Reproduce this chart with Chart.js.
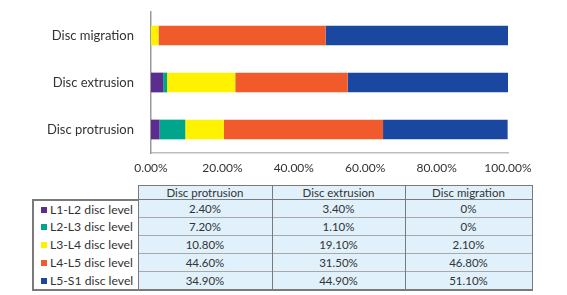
<!DOCTYPE html>
<html lang="en">
<head>
<meta charset="UTF-8">
<title>Disc level by herniation type</title>
<script src="https://cdn.jsdelivr.net/npm/chart.js"></script>
<style>
    body { margin: 0; width: 567px; height: 295px; background: #fff; position: relative; overflow: hidden;
           font-family: Lato, "Open Sans", sans-serif; color: #333; }
    #discChart { position: absolute; left: 0; top: 0; }
    table { position: absolute; left: 32px; top: 185px; border-collapse: collapse; table-layout: fixed; }
    td, th { padding: 0; text-align: center; font-weight: normal; white-space: nowrap; }
    th { height: 13px; font-size: 11.5px; line-height: 13px; background: #e0f1fb;
         border: 1.5px solid #7a7a7a; }
    th.blank { background: none; border: none; }
    td { height: 17px; font-size: 11.5px; line-height: 17px; background: #e0f1fb;
         border-left: 1.5px solid #7a7a7a; border-right: 1.5px solid #7a7a7a; border-top: 1px solid #a8a8a8; }
    td.lab { background: #fff; text-align: left; font-size: 12.2px; padding-left: 7px; border-top: none;
             border-left: 2px solid #7a7a7a; overflow: hidden; }
    tr:last-child td { border-bottom: 2px solid #7a7a7a; }
    tbody tr:first-child td.lab { border-top: 2px solid #7a7a7a; }
    .sw { display: inline-block; width: 6px; height: 6px; margin-right: 3px; vertical-align: 1px; }
</style>
</head>
<body>

<canvas id="discChart" width="567" height="183"></canvas>
<table id="discTable"></table>

<script>
    // columns of the table, bottom-to-top on the chart
    const categories = ['Disc protrusion', 'Disc extrusion', 'Disc migration'];
    const levels = ['L1-L2 disc level', 'L2-L3 disc level', 'L3-L4 disc level', 'L4-L5 disc level', 'L5-S1 disc level'];
    const colors = ['#5b2d8e', '#00a68c', '#fff200', '#f15a2b', '#1a47a0'];

    // percent per level, in category order
    const l1l2 = [2.4, 3.4, 0];
    const l2l3 = [7.2, 1.1, 0];
    const l3l4 = [10.8, 19.1, 2.1];
    const l4l5 = [44.6, 31.5, 46.8];
    const l5s1 = [34.9, 44.9, 51.1];
    const values = [l1l2, l2l3, l3l4, l4l5, l5s1];

    const xTicks = [0, 20, 40, 60, 80, 100];

    const fmt = v => v === 0 ? '0%' : v.toFixed(2) + '%';

    // data table under the chart
    const table = document.getElementById('discTable');
    let html = '<colgroup><col style="width:105px"><col style="width:134px"><col style="width:133px"><col style="width:127px"></colgroup>';
    html += '<thead><tr><th class="blank"></th>' + categories.map(c => '<th>' + c + '</th>').join('') + '</tr></thead><tbody>';
    levels.forEach((lvl, i) => {
        html += '<tr><td class="lab"><span class="sw" style="background:' + colors[i] + '"></span>' + lvl + '</td>';
        html += values[i].map(v => '<td>' + fmt(v) + '</td>').join('') + '</tr>';
    });
    html += '</tbody>';
    table.innerHTML = html;

    const ctx = document.getElementById('discChart').getContext('2d');
    new Chart(ctx, {
        type: 'bar',
        data: {
            labels: categories,
            datasets: levels.map((lvl, i) => ({
                label: lvl,
                data: values[i],
                backgroundColor: colors[i],
                borderWidth: 0,
                barPercentage: 0.42,
                categoryPercentage: 1
            }))
        },
        options: {
            indexAxis: 'y',
            responsive: false,
            animation: false,
            layout: { padding: { top: 12, right: 59, left: 0, bottom: 0 } },
            plugins: { legend: { display: false }, tooltip: { enabled: false } },
            scales: {
                x: {
                    stacked: true,
                    min: 0,
                    max: 100,
                    afterBuildTicks: s => { s.ticks = xTicks.map(v => ({ value: v })); },
                    afterFit: s => { s.height = 30; },
                    grid: { display: false, drawTicks: false },
                    border: { display: true, color: '#bdbdbd', width: 1.5 },
                    ticks: {
                        padding: 8,
                        color: '#333',
                        font: { family: 'Lato', size: 12 },
                        callback: v => v.toFixed(2) + '%'
                    }
                },
                y: {
                    stacked: true,
                    reverse: true,
                    // fixed label column, no extra label padding above/below the bars
                    afterFit: s => { s.width = 151; s.paddingTop = 0; s.paddingBottom = 0; },
                    grid: { display: false, drawTicks: false },
                    border: { display: true, color: '#9a9a9a', width: 1.5 },
                    ticks: {
                        padding: 17,
                        color: '#333',
                        font: { family: 'Lato', size: 13 }
                    }
                }
            }
        }
    });
</script>

</body>
</html>
